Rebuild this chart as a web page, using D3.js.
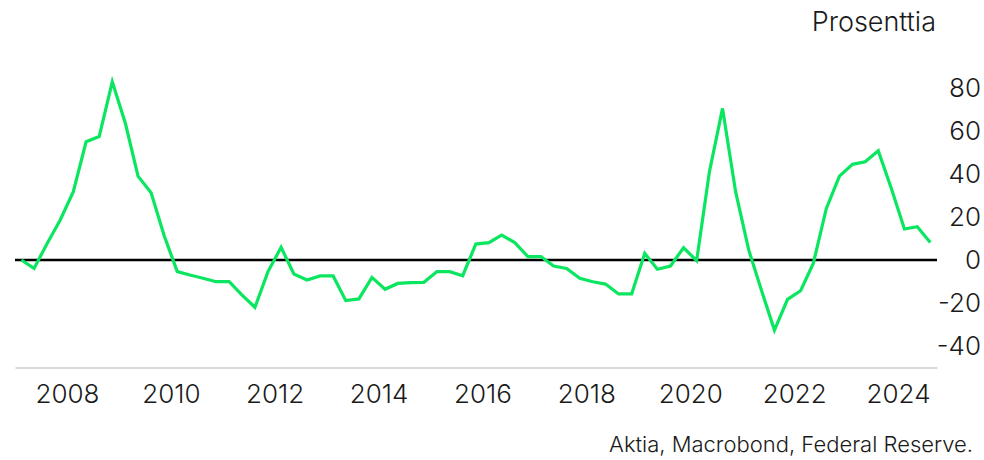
<html>
<head>
<meta charset="utf-8">
<script src="https://cdnjs.cloudflare.com/ajax/libs/d3/7.8.5/d3.min.js"></script>
<style>
  body { margin: 0; background: white; }
  text { font-family: Inter, "Noto Sans", sans-serif; font-weight: 300; fill: #1a1a1a; }
</style>
</head>
<body></body>
<script>
// quarterly observations, mid-quarter dates starting 2007 Q1
var startYear = 2007;
var values = [
  0, -3.9, 7.7, 18.6, 31.8, 55, 57.4, 82.9, 63.6, 39, 31.3, 11.3,
  -5.4, -7.0, -8.5, -10.1, -10.1, -16.2, -22, -5.4, 5.9, -6.5, -9.3, -7.4,
  -7.4, -18.9, -18.1, -8.1, -13.6, -10.9, -10.5, -10.4, -5.4, -5.4, -7.3, 7.4,
  8.1, 11.6, 8.1, 1.6, 1.6, -2.8, -3.9, -8.5, -10.1, -11.2, -15.8, -15.8,
  3.1, -4.3, -2.8, 5.7, -0.3, 41.1, 70.5, 31.8, 4.7, -14, -32.6, -18.3,
  -14.3, -1.6, 24, 39, 44.5, 45.7, 50.8, 33.3, 14.4, 15.5, 8.1
];
var yTicks = [-40, -20, 0, 20, 40, 60, 80];
var xTickYears = [2008, 2010, 2012, 2014, 2016, 2018, 2020, 2022, 2024];

var width = 984, height = 460;
var data = values.map(function (v, i) {
  var q = i % 4, yr = startYear + Math.floor(i / 4);
  return { date: new Date(yr, q * 3 + 1, 15), value: v };
});

var svg = d3.select("body").append("svg")
  .attr("width", width)
  .attr("height", height);

var x = d3.scaleTime()
  .domain([new Date(2007, 0, 1), new Date(2024, 9, 1)])
  .range([15, 937]);

var y = d3.scaleLinear()
  .domain([-50, 90])
  .range([367.5, 66.5]);

// bottom axis
var xAxis = d3.axisBottom(x)
  .tickValues(xTickYears.map(function (d) { return new Date(d, 0, 1); }))
  .tickFormat(d3.timeFormat("%Y"))
  .tickSize(0)
  .tickPadding(17);

var gx = svg.append("g")
  .attr("transform", "translate(0," + y(-50) + ")")
  .call(xAxis);
gx.select(".domain").attr("stroke", "#cccccc").attr("stroke-width", 1.5);
gx.selectAll("text").style("font-size", "26px").style("font-family", null).attr("fill", null);

// right axis labels, plain hyphen for negatives
var yAxis = d3.axisRight(y)
  .tickValues(yTicks)
  .tickFormat(function (d) { return String(d); })
  .tickSize(0)
  .tickPadding(0);
var gy = svg.append("g")
  .attr("transform", "translate(981,0)")
  .call(yAxis);
gy.select(".domain").remove();
gy.selectAll("text")
  .attr("text-anchor", "end")
  .attr("x", 0)
  .style("font-size", "26px").style("font-family", null).attr("fill", null);

// zero line
svg.append("line")
  .attr("x1", x.range()[0]).attr("x2", x.range()[1])
  .attr("y1", y(0)).attr("y2", y(0))
  .attr("stroke", "black")
  .attr("stroke-width", 2.5);

var line = d3.line()
  .x(function (d) { return x(d.date); })
  .y(function (d) { return y(d.value); });

svg.append("path")
  .datum(data)
  .attr("fill", "none")
  .attr("stroke", "#0ae660")
  .attr("stroke-width", 3.2)
  .attr("d", line);

svg.append("text")
  .attr("x", 936).attr("y", 31)
  .attr("text-anchor", "end")
  .style("font-size", "27px")
  .text("Prosenttia");

svg.append("text")
  .attr("x", 973).attr("y", 452)
  .attr("text-anchor", "end")
  .style("font-size", "22px")
  .text("Aktia, Macrobond, Federal Reserve.");
</script>
</html>
